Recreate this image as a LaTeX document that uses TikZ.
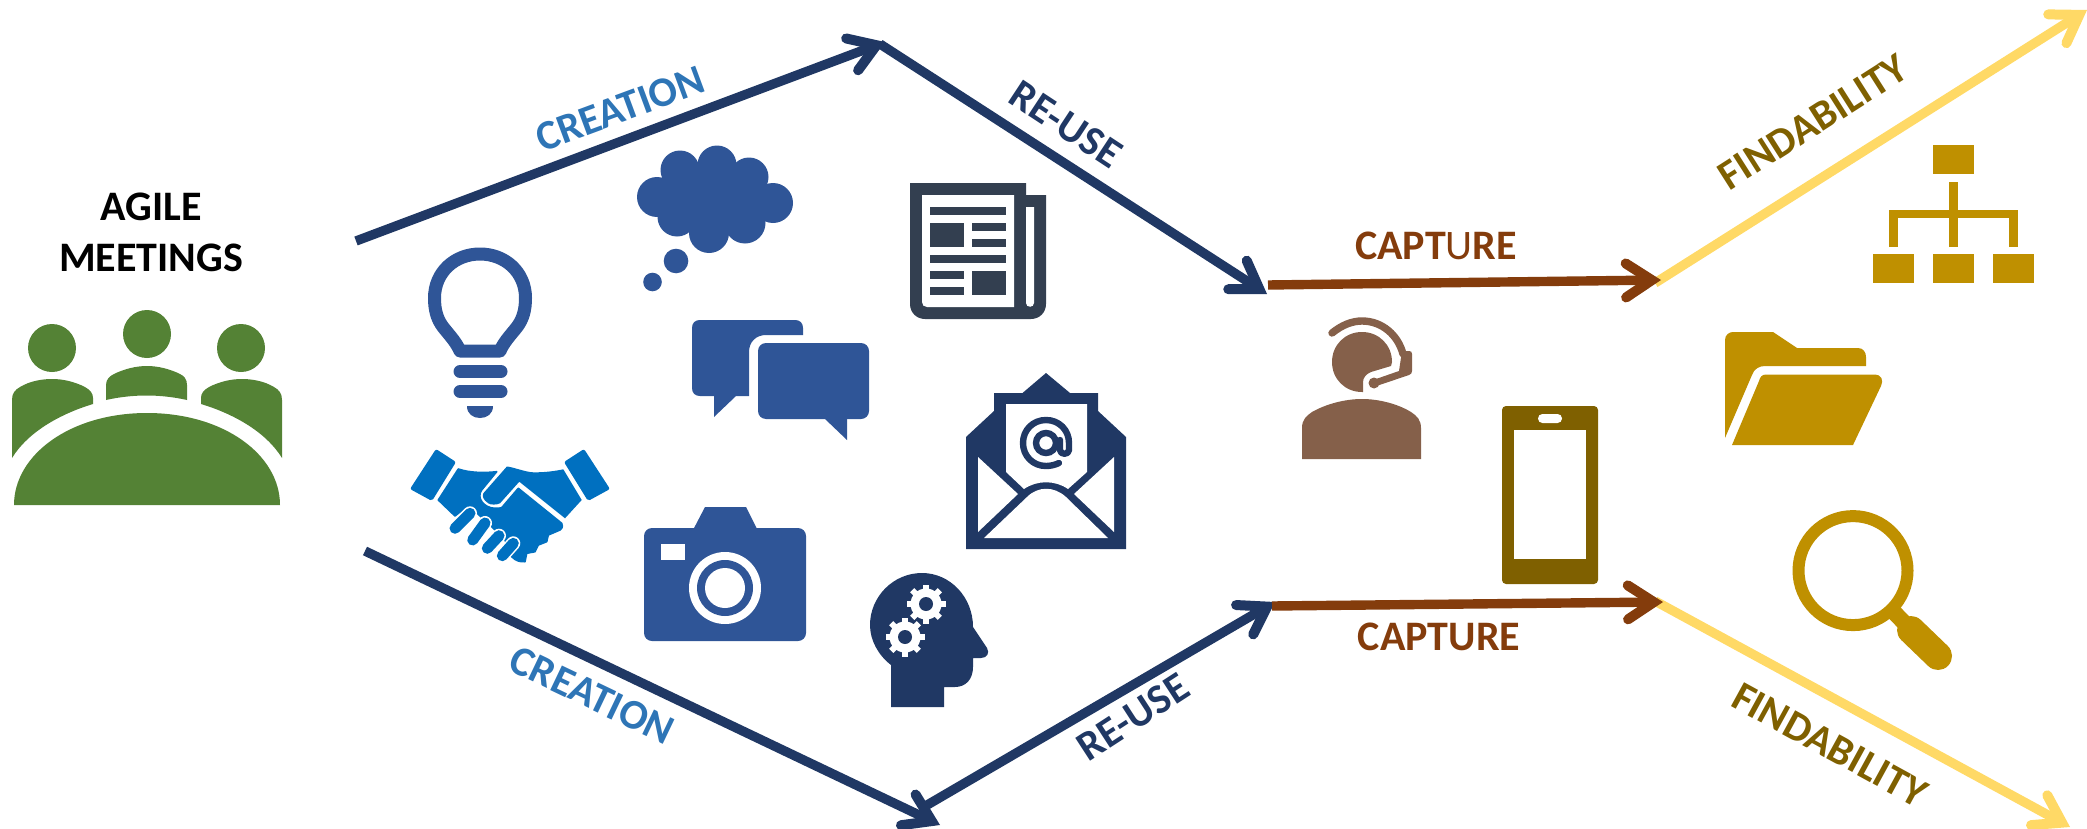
\documentclass[tikz,border=0pt]{standalone}
\usepackage{fontspec}
\setmainfont{Carlito}
\usetikzlibrary{arrows.meta}
\definecolor{cgreen}{HTML}{548235}
\definecolor{cblue}{HTML}{2F5597}
\definecolor{cnavy}{HTML}{203864}
\definecolor{cslate}{HTML}{333F50}
\definecolor{chand}{HTML}{0070C0}
\definecolor{cperson}{HTML}{85604A}
\definecolor{cbrown}{HTML}{843C0C}
\definecolor{colive}{HTML}{7F6000}
\definecolor{cgold}{HTML}{BF9000}
\definecolor{cyellow}{HTML}{FFD966}
\definecolor{clabel}{HTML}{2E75B6}
\tikzset{
  barb/.style={line width=4.7pt,-{Straight Barb[length=13pt,width=17pt,line width=5pt,line cap=round,line join=miter]}},
  lab/.style={font=\fontsize{21}{25.5}\selectfont\bfseries,inner sep=0pt,anchor=center},
  bar/.style={line cap=round},
}
\begin{document}
\begin{tikzpicture}[x=0.5pt,y=-0.5pt]
\useasboundingbox (0,0) rectangle (2087,829);
% ---- connector end points
\coordinate (c1s) at (356,241);
\coordinate (c1e) at (885,42);
\coordinate (r1s) at (880,44);
\coordinate (r1e) at (1267,294);
\coordinate (p1s) at (1268,285);
\coordinate (p1e) at (1661,280);
\coordinate (f1s) at (1655,283);
\coordinate (f1e) at (2087,10);
\coordinate (c2s) at (365,551);
\coordinate (c2e) at (940,825);
\coordinate (r2s) at (922,808);
\coordinate (r2e) at (1275,602);
\coordinate (p2s) at (1272,606);
\coordinate (p2e) at (1663,602);
\coordinate (f2s) at (1655,601);
\coordinate (f2e) at (2070,827);
% ---- connectors
\draw[barb,cnavy] (c1s) -- (c1e);
\draw[barb,cnavy] (r1s) -- (r1e);
\draw[barb,cnavy] (c2s) -- (c2e);
\draw[barb,cnavy] (r2s) -- (r2e);
\draw[barb,cyellow] (f1s) -- (f1e);
\draw[barb,cyellow] (f2s) -- (f2e);
\draw[barb,cbrown] (p1s) -- (p1e);
\draw[barb,cbrown] (p2s) -- (p2e);
% ---- labels
\node[lab,align=center,black] (agile) at (151,232) {AGILE\\MEETINGS};
\node[lab,clabel,rotate=20.3] (creA) at (620,109) {CREATION};
\node[lab,cnavy,rotate=-33.4] (reuA) at (1066,124) {RE-USE};
\node[lab,cbrown] (capA) at (1436,246) {CAPT{\mdseries U}RE};
\node[lab,colive,rotate=32.5] (finA) at (1813,122) {FINDABILITY};
\node[lab,clabel,rotate=-25.5] (creB) at (592,695) {CREATION};
\node[lab,cnavy,rotate=33] (reuB) at (1133,717) {RE-USE};
\node[lab,cbrown] (capB) at (1439,637) {CAPTURE};
\node[lab,colive,rotate=-28.7] (finB) at (1830,745) {FINDABILITY};
% ---- meeting icon
\fill[cgreen] (52,348) circle (24);
\fill[cgreen] (147,334) circle (24);
\fill[cgreen] (241,348) circle (24);
\fill[cgreen] (14,505) .. controls (14,455) and (70,413) .. (147,413) .. controls (224,413) and (280,455) .. (280,505) -- cycle;
\fill[cgreen] (12,458) -- (12,400) .. controls (12,393) and (15,390) .. (20,387) .. controls (30,381) and (42,379) .. (52,379) .. controls (64,379) and (75,382) .. (85,387) .. controls (90,390) and (93,393) .. (93,398) -- (93,404) .. controls (60,414) and (28,432) .. (12,458) -- cycle;
\fill[cgreen] (106,400) -- (106,385) .. controls (106,379) and (110,376) .. (114,374) .. controls (124,369) and (136,366) .. (147,366) .. controls (158,366) and (170,369) .. (180,374) .. controls (184,376) and (187,379) .. (187,385) -- (187,400) .. controls (160,394) and (133,394) .. (106,400) -- cycle;
\fill[cgreen] (282,458) -- (282,400) .. controls (282,393) and (279,390) .. (274,387) .. controls (264,381) and (252,379) .. (242,379) .. controls (230,379) and (219,382) .. (209,387) .. controls (204,390) and (201,393) .. (201,398) -- (201,404) .. controls (234,414) and (266,432) .. (282,458) -- cycle;
% ---- bulb
\draw[cblue,line width=6.5pt,line join=round] (460,351) .. controls (456,342) and (451,337) .. (443,327) .. controls (437,319) and (434.5,310) .. (434.5,298) .. controls (434.5,272) and (455,254) .. (480,254) .. controls (505,254) and (525.5,272) .. (525.5,298) .. controls (525.5,310) and (523,319) .. (517,327) .. controls (509,337) and (504,342) .. (500,351) -- cycle;
\draw[cblue,line width=6.5pt,bar] (460,371.5) -- (501,371.5);
\draw[cblue,line width=6.5pt,bar] (460,391.5) -- (501,391.5);
\fill[cblue] (467,406) -- (493,406) .. controls (493,414) and (487,418) .. (480,418) .. controls (473,418) and (467,414) .. (467,406) -- cycle;
% ---- handshake
\fill[chand,rounded corners=1pt] (436,449) -- (456,462) -- (432,501) -- (410,489) -- cycle;
\fill[chand,rounded corners=1pt] (584,449) -- (610,489) -- (588,501) -- (564,462) -- cycle;
\filldraw[chand,line width=0.8pt,line join=round] (458.3,469) .. controls (470,473) and (485,473) .. (496.7,471.7) -- (481.7,490) .. controls (476,498) and (484,508) .. (495,508.3) .. controls (498,508.5) and (500,508) .. (501.7,507.7) -- (518.3,488.3) -- (561.7,523.3) .. controls (563,527) and (562,529) .. (560,530) -- (548.3,535) -- (546.7,541.7) -- (538.3,545) -- (535,551.7) -- (526.7,553.3) -- (525,561.7) .. controls (520,562) and (516,561) .. (511.7,556.7) -- (505,540) -- (490,525) -- (471.7,508.3) -- (465,508.3) -- (455,516) -- (438.3,500) -- cycle;
\fill[chand] (506.7,466.7) .. controls (510,466) and (525,472) .. (533,472.3) .. controls (545,472.5) and (555,471) .. (563.3,469.3) -- (581.7,500) -- (565,518.3) -- (519.3,481.7) -- (500,503.3) .. controls (497,505) and (490,505) .. (488.3,503.3) .. controls (483,500) and (482,496) .. (483.3,493.3) -- cycle;
\foreach \ax/\ay/\bx/\by in {455/528.3/470/513.3,472.7/540/485/523,487.3/548.3/499/535.7,502.3/555.7/513.3/543.3}{
  \draw[white,line width=7pt,bar] (\ax,\ay) -- (\bx,\by);
  \draw[chand,line width=5.5pt,bar] (\ax,\ay) -- (\bx,\by);
}
% ---- cloud
\foreach \cx/\cy/\r in {657/197/20,680/170/19.5,717/165/19.5,749/177/19.5,773/203/20,745/223/20.5,709/233/20,677/217/19.5,715/197/36,690/195/25,745/195/25,652.5/282/9.3,676/261/12.3}{
  \fill[cblue] (\cx,\cy) circle (\r);
}
% ---- speech bubbles
\fill[cblue] (700,320) -- (795,320) .. controls (800,320) and (803,323) .. (803,328) -- (803,335) -- (766,335) .. controls (756,335) and (749,342) .. (749,352) -- (749,396) -- (736,396) -- (714,417) -- (714,396) -- (700,396) .. controls (695,396) and (692,393) .. (692,388) -- (692,328) .. controls (692,323) and (695,320) .. (700,320) -- cycle;
\fill[cblue,rounded corners=4pt] (758,343) rectangle (869,419);
\fill[cblue] (825,419) -- (847,440) -- (847,415) -- (825,415) -- cycle;
% ---- newspaper
\fill[cslate] (910,183) -- (1026,183) -- (1026,195) -- (1046,195) -- (1046,304) .. controls (1046,313) and (1039,319) .. (1031,319) -- (925,319) .. controls (917,319) and (910,313) .. (910,304) -- cycle;
\fill[white] (922,195) -- (1014,195) -- (1014,307) -- (927,307) .. controls (924,307) and (922,305) .. (922,302) -- cycle;
\fill[white] (1026,207) -- (1034,207) -- (1034,303) .. controls (1034,308) and (1026,308) .. (1026,303) -- cycle;
\fill[cslate] (930,207) rectangle (1006,215);
\fill[cslate] (930,223) rectangle (964,247);
\fill[cslate] (972,223) rectangle (1006,231);
\fill[cslate] (972,239) rectangle (1006,247);
\fill[cslate] (930,255) rectangle (1006,263);
\fill[cslate] (930,271) rectangle (964,279);
\fill[cslate] (930,287) rectangle (964,295);
\fill[cslate] (972,271) rectangle (1006,295);
% ---- envelope
\fill[cnavy] (1046,373) -- (1070,393) -- (1098,393) -- (1098,411) -- (1126,437) -- (1126,549) -- (966,549) -- (966,437) -- (994,411) -- (994,393) -- (1022.5,393) -- cycle;
\fill[white] (1006,404) -- (1087,404) -- (1087,472) -- (1068,489) .. controls (1055,480) and (1037,480) .. (1024,489) -- (1006,472) -- cycle;
\fill[white] (978,457) -- (1018,494) -- (978,532) -- cycle;
\fill[white] (1114,457) -- (1074,494) -- (1114,532) -- cycle;
\fill[white] (984,538) -- (1027,497) .. controls (1038,486) and (1054,486) .. (1066,497) -- (1108,538) -- cycle;
\draw[cnavy,line width=3.2pt] (1046,443) circle (10);
\draw[cnavy,line width=3.2pt,bar,line join=round] (1059,463) .. controls (1055,465) and (1050,466) .. (1046,466) .. controls (1033,466) and (1023,456) .. (1023,443) .. controls (1023,430) and (1033,420) .. (1046,420) .. controls (1059,420) and (1069,430) .. (1069,443) -- (1069,450) .. controls (1069,455) and (1060,455) .. (1060,450) -- (1060,440);
% ---- camera
\fill[cblue,rounded corners=4pt] (644,528) rectangle (806,641);
\fill[cblue] (693,530) -- (705,507) -- (746,507) -- (757.5,530) -- cycle;
\fill[white] (661,544) rectangle (685,560);
\fill[white] (725,588) circle (36);
\fill[cblue] (725,588) circle (28);
\fill[white] (725,588) circle (20);
% ---- head with gears
\fill[cnavy] (973,627) .. controls (973,597) and (950,573) .. (922,573) .. controls (893,573) and (870,597) .. (870,625) .. controls (870,640) and (878,655) .. (891,665) -- (891,707) -- (944,707) -- (944,687) -- (955,687) .. controls (966,687) and (973,679) .. (973,667) -- (973,658) -- (981,658) .. controls (987,658) and (990,653) .. (987,648) -- cycle;
\foreach \gx/\gy in {926/604,905/637}{
  \fill[white] (\gx,\gy) circle (15.5);
  \foreach \a in {0,45,...,315}{
    \draw[white,line width=3pt] (\gx,\gy) ++(\a:13) -- ++(\a:6.5);
  }
  \fill[cnavy] (\gx,\gy) circle (7);
}
% ---- headset person
\fill[cperson] (1362,392) .. controls (1345,392) and (1332,379) .. (1332,362) .. controls (1332,345) and (1345,332) .. (1362,332) .. controls (1379,332) and (1392,345) .. (1392,362) -- (1391,366) -- (1371,372) .. controls (1366,374) and (1363,378) .. (1363,382) -- (1363,392) -- cycle;
\draw[cperson,line width=3.7pt,bar] (1332,333) .. controls (1342,325) and (1352,321) .. (1362,321) .. controls (1382,321) and (1398,335) .. (1403,354);
\fill[cperson] (1402,351) -- (1409,351) .. controls (1411,351) and (1412,352) .. (1412,354) -- (1412,371) .. controls (1412,373) and (1411,374.5) .. (1409,375) -- (1378,385.5) -- (1376,379) -- (1399,371) -- cycle;
\fill[cperson] (1374,383) circle (5.5);
\fill[cperson] (1302,459) -- (1302,428) .. controls (1302,420) and (1306,416) .. (1312,412) .. controls (1326,404) and (1345,399) .. (1362,399) .. controls (1379,399) and (1398,404) .. (1411,412) .. controls (1417,416) and (1421,420) .. (1421,428) -- (1421,459) -- cycle;
% ---- phone
\fill[colive,rounded corners=2pt] (1502,406) rectangle (1598,584);
\fill[white] (1514,430) rectangle (1586,559);
\fill[white,rounded corners=2.2pt] (1538,414) rectangle (1562,423);
% ---- organisation chart
\fill[cgold] (1933,145) rectangle (1974,174);
\fill[cgold] (1873,254) rectangle (1914,283);
\fill[cgold] (1933,254) rectangle (1974,283);
\fill[cgold] (1993,254) rectangle (2034,283);
\fill[cgold] (1949,182) rectangle (1958,246.5);
\fill[cgold] (1889,210) rectangle (2018,218);
\fill[cgold] (1889,210) rectangle (1898,246.5);
\fill[cgold] (2009,210) rectangle (2018,246.5);
% ---- folder
\fill[cgold] (1725,340) .. controls (1725,335) and (1729,332) .. (1733,332) -- (1773,332) -- (1797,348) -- (1858,348) .. controls (1863,348) and (1866,352) .. (1866,357) -- (1866,366) -- (1765,366) .. controls (1759,366) and (1754,369) .. (1752,375) -- (1725,438) -- cycle;
\fill[cgold] (1759,381) .. controls (1760,377) and (1762,374.5) .. (1766,374.5) -- (1875,374.5) .. controls (1881,374.5) and (1884,380) .. (1881,386) -- (1853,445) -- (1732,445) -- cycle;
% ---- magnifier
\draw[cgold,line width=6pt] (1853,570.6) circle (54.5);
\draw[cgold,line width=8pt] (1890,608) -- (1913,632);
\draw[cgold,line width=14pt,bar] (1911,630) -- (1938,656);
\end{tikzpicture}
\end{document}
